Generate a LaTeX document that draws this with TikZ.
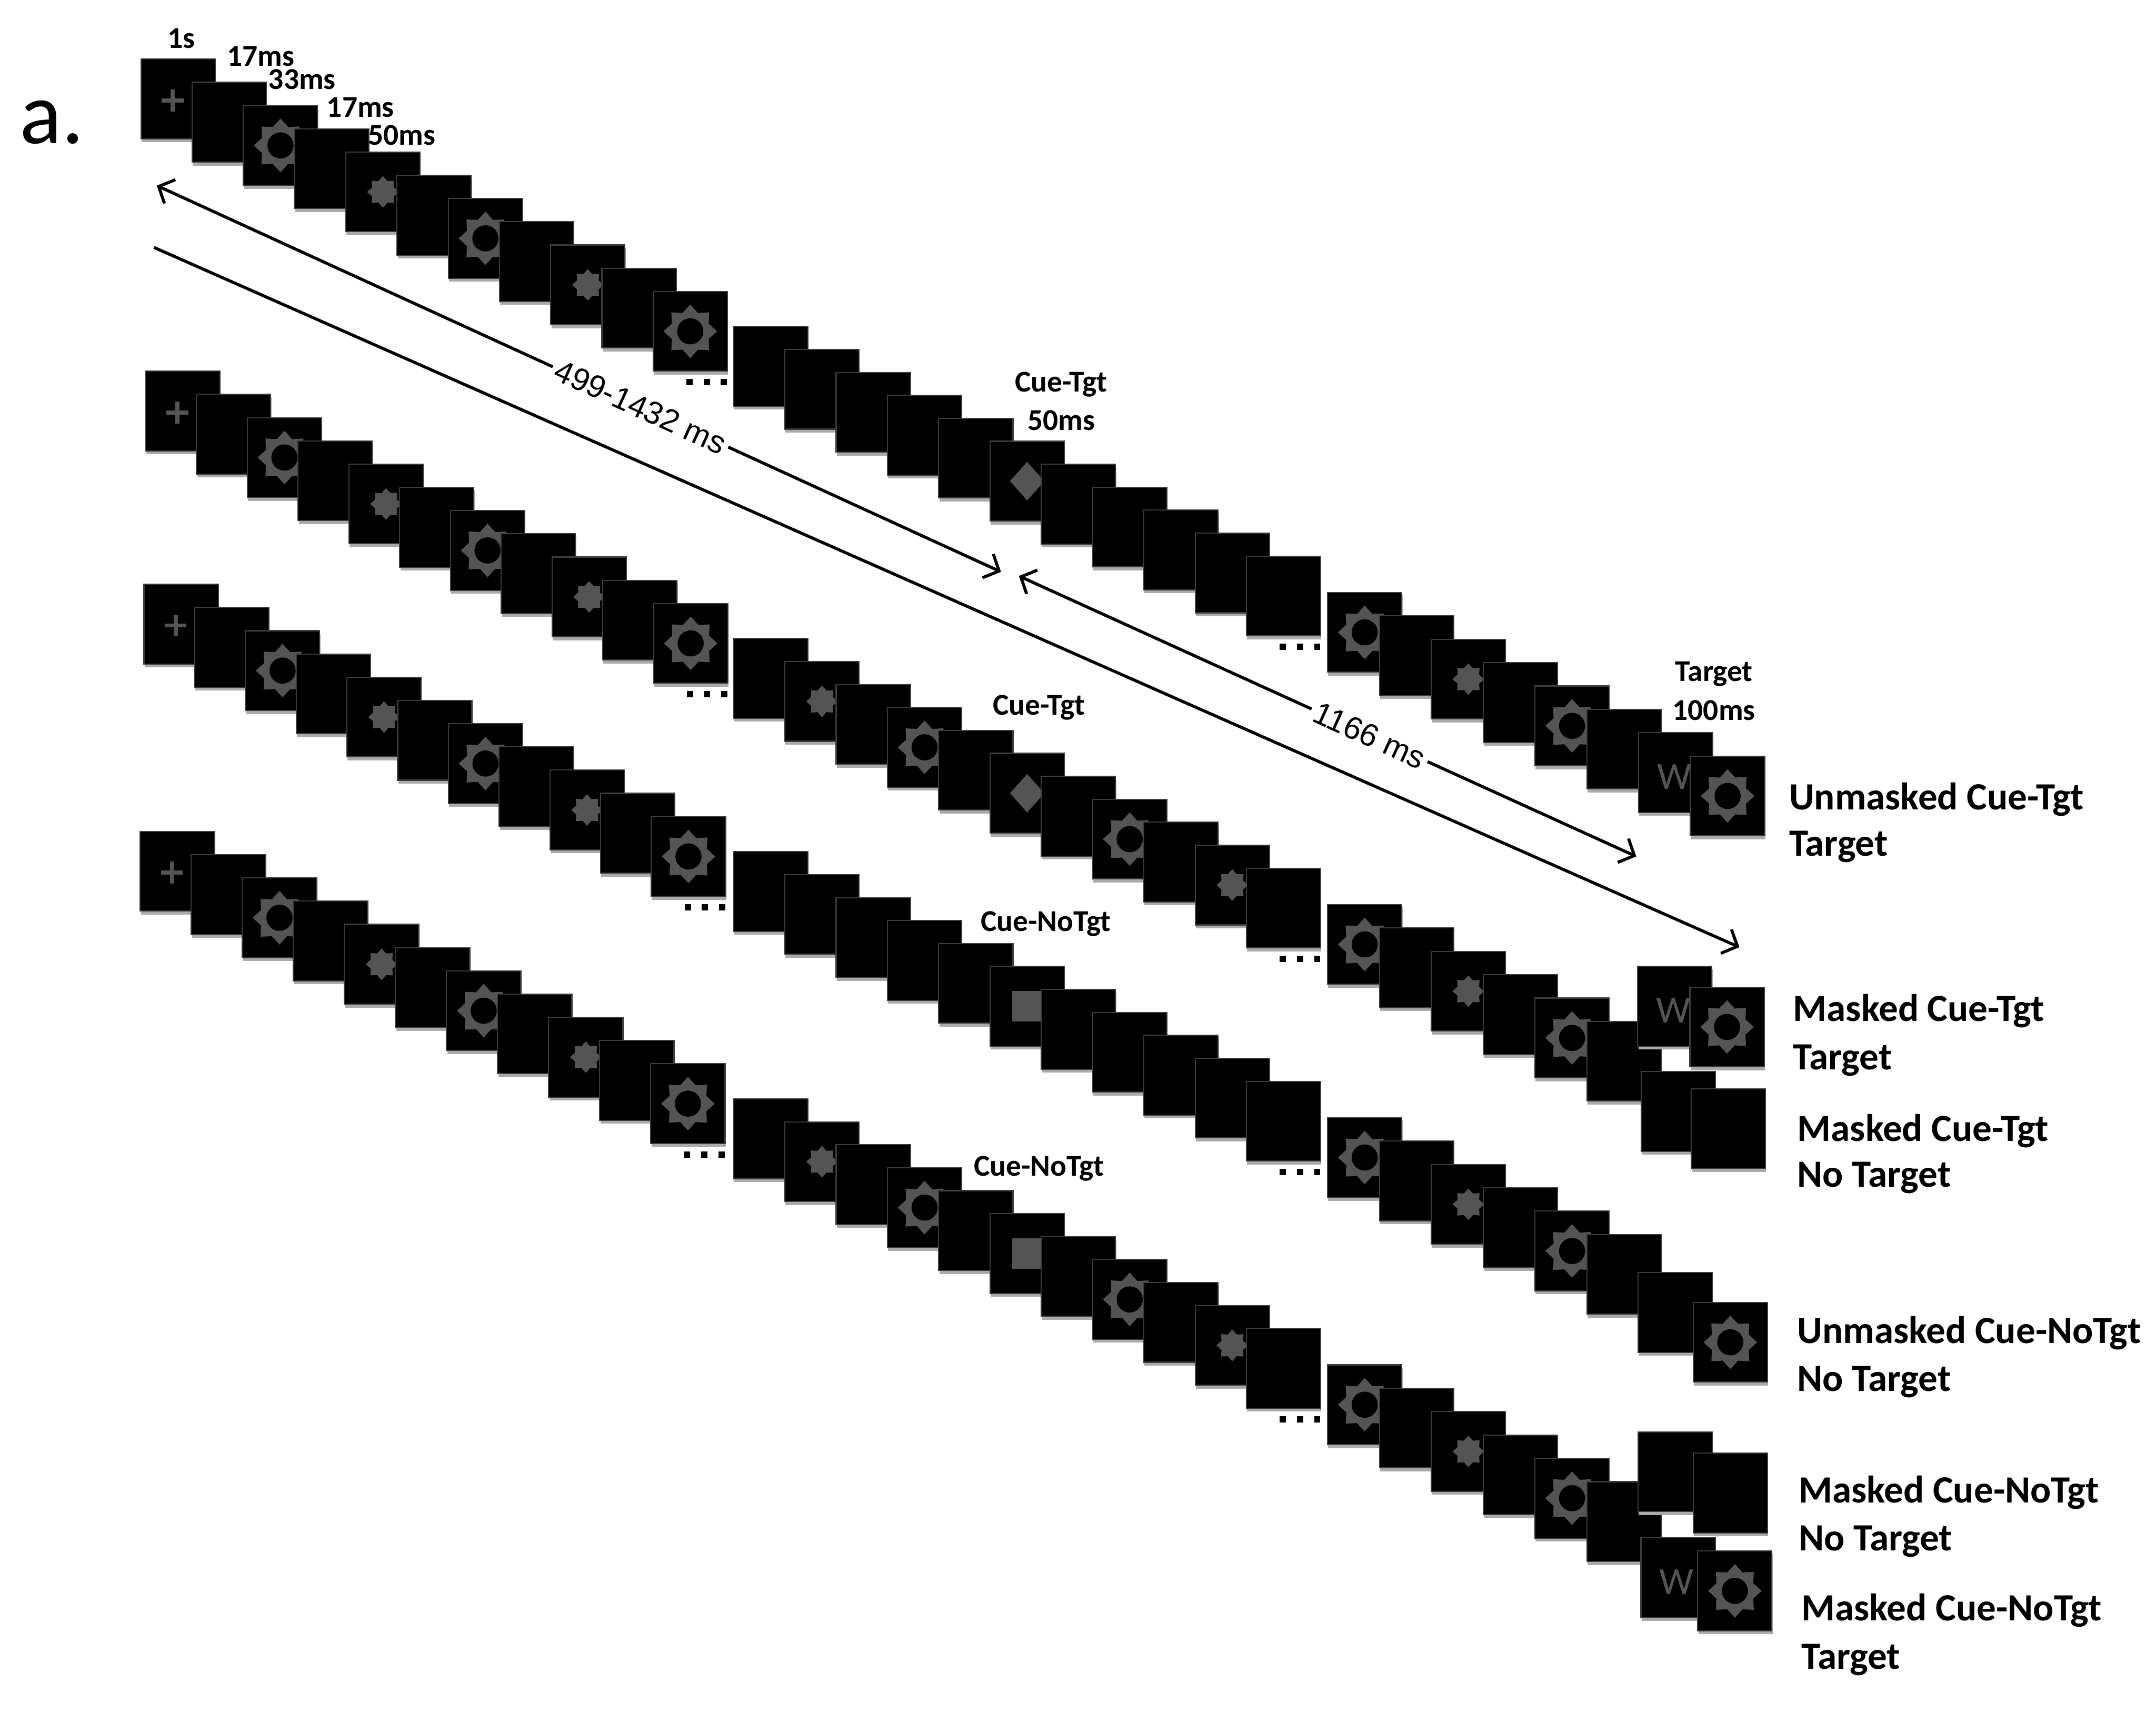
\documentclass[tikz,border=0pt]{standalone}
\usepackage{fontspec}
\setmainfont{Carlito}
\newfontfamily\arialf{Liberation Sans}
\usetikzlibrary{arrows.meta}
\definecolor{symgray}{RGB}{84,84,84}
\definecolor{edgegray}{RGB}{60,60,60}
\definecolor{shadowgray}{RGB}{170,170,170}
\tikzset{
  card/.style={anchor=north west, minimum width=54pt, minimum height=58pt, inner sep=0pt, outer sep=0pt, fill=black, draw=edgegray, line width=0.8pt},
  cardshadow/.style={fill=shadowgray},
  small/.style={font=\fontsize{22}{27}\selectfont\bfseries, inner sep=0pt},
  big/.style={font=\fontsize{28}{34}\selectfont\bfseries, inner sep=0pt, anchor=base west},
  wlet/.style={font=\fontsize{28}{32}\selectfont, text=symgray, inner sep=0pt},
  seglabel/.style={fill=white, inner xsep=3pt, inner ysep=1pt, font=\arialf\fontsize{23}{27}\selectfont},
  arr/.style={line width=2.2pt},
  >={Straight Barb[length=9pt,width=19pt]},
  symP/.pic={\fill[symgray] (-12,-0.5) rectangle (4,2.5); \fill[symgray] (-5.5,-7) rectangle (-2.5,9);},
  symS/.pic={\fill[symgray] (90:19.5) \foreach \a in {1,...,15}{ -- ({90+\a*22.5}:{19.5-5*mod(\a,2)}) } -- cycle; \fill[black] (0,0) circle (9.5pt);},
  symF/.pic={\fill[symgray] (90:11.5) \foreach \a in {1,...,15}{ -- ({90+\a*22.5}:{11.5-3*mod(\a,2)}) } -- cycle;},
  symD/.pic={\fill[symgray] (0,-14) -- (12.5,0) -- (0,14) -- (-12.5,0) -- cycle;},
  symQ/.pic={\fill[symgray] (-11,-11) rectangle (11,11);}
}
\newcommand\basecard[3]{%
  \fill[cardshadow] ({#2+0.5},{#3+2}) rectangle ({#2+54.5},{#3+60.5});
  \node[card] (#1) at ({#2},{#3}) {};}
\newcommand\cardB[3]{\basecard{#1}{#2}{#3}}
\newcommand\cardP[3]{\basecard{#1}{#2}{#3}\pic at (#1.center) {symP};}
\newcommand\cardS[3]{\basecard{#1}{#2}{#3}\pic at (#1.center) {symS};}
\newcommand\cardF[3]{\basecard{#1}{#2}{#3}\pic at (#1.center) {symF};}
\newcommand\cardD[3]{\basecard{#1}{#2}{#3}\pic at (#1.center) {symD};}
\newcommand\cardQ[3]{\basecard{#1}{#2}{#3}\pic at (#1.center) {symQ};}
\newcommand\cardW[3]{\basecard{#1}{#2}{#3}\node[wlet] (#1w) at ([shift={(-1,3)}]#1.center) {W};}
\newcommand\threedots[1]{\foreach \dx in {-27.5,-15,-2.5}{\fill[black] ([shift={({\dx-2.25},5.75)}]#1.south east) rectangle ++(4.5,4.5);}}
\newcommand\cardrow[7]{%
  \foreach \i/\ty in {#5}{\csname card\ty\endcsname{#1\i}{#2+\i*#3}{#4+\i*16.9}}%
  \foreach \i/\ty in {#6}{\csname card\ty\endcsname{#1\i}{533.5+(\i-11)*37.3}{#4+194.5+(\i-11)*16.7}}%
  \foreach \i/\ty in {#7}{\csname card\ty\endcsname{#1\i}{965.5+(\i-22)*37.7}{#4+388+(\i-22)*17}}%
  \threedots{#110}\threedots{#121}}
\begin{document}
\begin{tikzpicture}[x=1pt,y=-1pt]
\fill[white] (0,0) rectangle (1568,1246);
\useasboundingbox (0,0) rectangle (1568,1246);

\node[font=\fontsize{64}{70}\selectfont, anchor=base west, inner sep=0pt] (lbla) at (14,104.5) {a.};

% row A
\cardrow{A}{102.5}{37.25}{43}
 {0/P,1/B,2/S,3/B,4/F,5/B,6/S,7/B,8/F,9/B,10/S}
 {11/B,12/B,13/B,14/B,15/B,16/D,17/B,18/B,19/B,20/B,21/B}
 {22/S,23/B,24/F,25/B,26/S,27/B,28/W,29/S}
% row B
\cardrow{B}{106}{36.93}{270}
 {0/P,1/B,2/S,3/B,4/F,5/B,6/S,7/B,8/F,9/B,10/S}
 {11/B,12/F,13/B,14/S,15/B,16/D,17/B,18/S,19/B,20/F,21/B}
 {22/S,23/B,24/F,25/B,26/S,27/B}
\cardW{B28}{1191}{703}
\cardS{B29}{1229}{718}
\cardB{B30}{1193.5}{779.5}
\cardB{B31}{1230}{792}
% row C
\cardrow{C}{104.7}{36.9}{425}
 {0/P,1/B,2/S,3/B,4/F,5/B,6/S,7/B,8/F,9/B,10/S}
 {11/B,12/B,13/B,14/B,15/B,16/Q,17/B,18/B,19/B,20/B,21/B}
 {22/S,23/B,24/F,25/B,26/S,27/B}
\cardB{C28}{1191.3}{925.7}
\cardS{C29}{1231.4}{947.4}
% row D
\cardrow{D}{102}{37.13}{604.8}
 {0/P,1/B,2/S,3/B,4/F,5/B,6/S,7/B,8/F,9/B,10/S}
 {11/B,12/F,13/B,14/S,15/B,16/Q,17/B,18/S,19/B,20/F,21/B}
 {22/S,23/B,24/F,25/B,26/S,27/B}
\cardB{D28}{1191.3}{1041.5}
\cardB{D29}{1231.4}{1057}
\cardW{D30}{1193.4}{1118.6}
\cardS{D31}{1234.7}{1128.2}

% timing labels
\node[small, anchor=base] (l1s) at (132,35) {1s};
\node[small, anchor=base west] (l17a) at (165,48) {17ms};
\node[small, anchor=base west] (l33) at (195,65) {33ms};
\node[small, anchor=base west] (l17b) at (237.5,85) {17ms};
\node[small, anchor=base west] (l50) at (267.6,105.5) {50ms};
\node[small, anchor=base] (cueA) at (771.6,285) {Cue-Tgt};
\node[small, anchor=base] (cueA50) at (772,312.8) {50ms};
\node[small, anchor=base] (cueB) at (755.5,520) {Cue-Tgt};
\node[small, anchor=base] (cueC) at (760.6,677.5) {Cue-NoTgt};
\node[small, anchor=base] (cueD) at (755.6,855.5) {Cue-NoTgt};
\node[small, anchor=base] (tgtA) at (1246.5,495.5) {Target};
\node[small, anchor=base] (tgtA100) at (1246.5,524) {100ms};

% condition labels
\node[big] (rA1) at (1301,589) {Unmasked Cue-Tgt};
\node[big] (rA2) at (1301,622.5) {Target};
\node[big] (rB1) at (1304,743) {Masked Cue-Tgt};
\node[big] (rB2) at (1304,778) {Target};
\node[big] (rB3) at (1307,830) {Masked Cue-Tgt};
\node[big] (rB4) at (1307,863.5) {No Target};
\node[big] (rC1) at (1307,977) {Unmasked Cue-NoTgt};
\node[big] (rC2) at (1307,1012) {No Target};
\node[big] (rD1) at (1308,1093) {Masked Cue-NoTgt};
\node[big] (rD2) at (1308,1128) {No Target};
\node[big] (rD3) at (1310,1179) {Masked Cue-NoTgt};
\node[big] (rD4) at (1310,1214) {Target};

% arrows
\coordinate (a1s) at (114,135);
\coordinate (a1e) at (728,416);
\coordinate (a2s) at (741,419);
\coordinate (a2e) at (1190,623);
\coordinate (a3s) at (112,180);
\coordinate (a3e) at (1265,689);
\draw[arr, <->] (a1s) -- node[seglabel, pos=0.573, sloped] (t499) {499-1432 ms} (a1e);
\draw[arr, <->] (a2s) -- node[seglabel, pos=0.568, sloped] (t1166) {1166 ms} (a2e);
\draw[arr, ->] (a3s) -- (a3e);
\end{tikzpicture}
\end{document}
